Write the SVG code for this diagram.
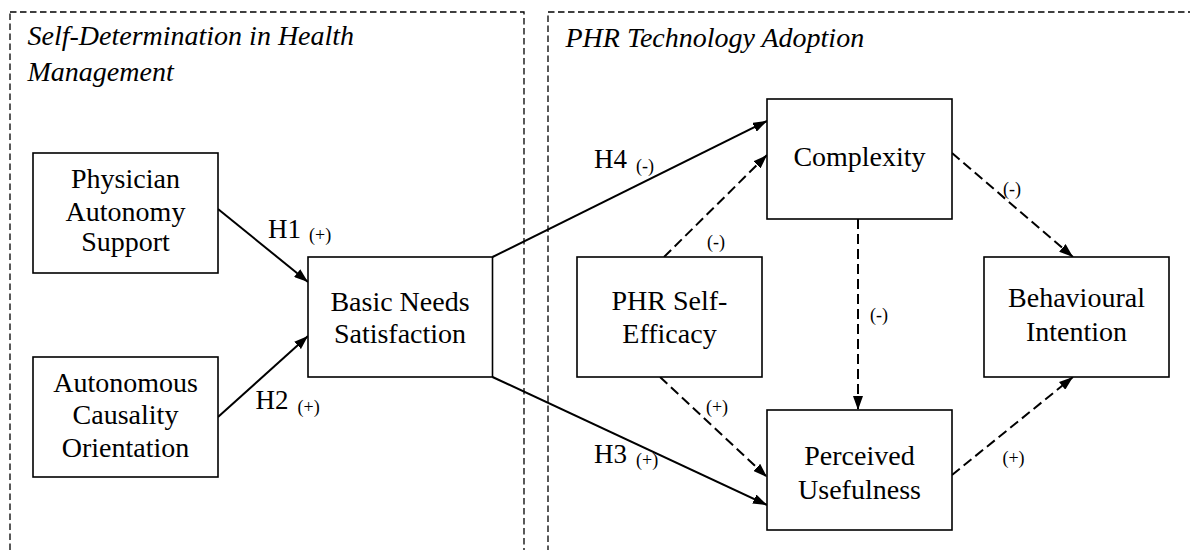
<svg xmlns="http://www.w3.org/2000/svg" width="1190" height="550" viewBox="0 0 1190 550">
<defs>
<style>
.frame{fill:none;stroke:#000;stroke-width:1.3;stroke-dasharray:6.5 3.5}
.box{fill:#fff;stroke:#000;stroke-width:1.6}
.lbl{font-family:"Liberation Serif","Times New Roman",serif;font-size:28px;fill:#000;text-anchor:middle}
.ttl{font-family:"Liberation Serif","Times New Roman",serif;font-size:28px;font-style:italic;fill:#000}
.h{font-family:"Liberation Serif","Times New Roman",serif;font-size:27px;fill:#000}
.s{font-family:"Liberation Serif","Times New Roman",serif;font-size:18px;fill:#000}
.sc{font-family:"Liberation Serif","Times New Roman",serif;font-size:18px;fill:#000;text-anchor:middle}
.solid{fill:none;stroke:#000;stroke-width:2;marker-end:url(#ah)}
.dash{fill:none;stroke:#000;stroke-width:2;stroke-dasharray:10 5;marker-end:url(#ah)}
</style>
<marker id="ah" viewBox="0 0 14 10" refX="14" refY="5" markerWidth="14" markerHeight="10" markerUnits="userSpaceOnUse" orient="auto">
<path d="M0,0 L14,5 L0,10 z" fill="#000"/>
</marker>
</defs>
<rect width="1190" height="550" fill="#fff"/>
<g id="frames">
<rect class="frame" x="10" y="12" width="514" height="560"/>
<text class="ttl" x="27.5" y="45">Self-Determination in Health</text>
<text class="ttl" x="27.5" y="81">Management</text>
<rect class="frame" x="548" y="12" width="700" height="560"/>
<text class="ttl" x="565.5" y="47">PHR Technology Adoption</text>
</g>
<g id="connectors">
<line class="solid" x1="218" y1="209" x2="308" y2="282"/>
<line class="solid" x1="218" y1="417" x2="308" y2="336"/>
<line class="solid" x1="492.5" y1="257" x2="767" y2="121"/>
<line class="solid" x1="492.5" y1="377" x2="767" y2="505"/>
<line class="dash" x1="664" y1="257" x2="767" y2="155"/>
<line class="dash" x1="952" y1="153" x2="1073" y2="257"/>
<line class="dash" x1="858" y1="219" x2="858" y2="410"/>
<line class="dash" x1="660" y1="377" x2="767" y2="477"/>
<line class="dash" x1="952" y1="475" x2="1073" y2="377"/>
<text class="h" x="268" y="238">H1</text><text class="s" x="309" y="241">(+)</text>
<text class="h" x="255.5" y="409">H2</text><text class="s" x="297.5" y="413">(+)</text>
<text class="h" x="594" y="168">H4</text><text class="s" x="636" y="172">(-)</text>
<text class="h" x="594" y="463">H3</text><text class="s" x="636" y="466">(+)</text>
<text class="sc" x="716" y="248">(-)</text>
<text class="sc" x="1012" y="195">(-)</text>
<text class="sc" x="879" y="321">(-)</text>
<text class="sc" x="717" y="413">(+)</text>
<text class="sc" x="1013.5" y="464">(+)</text>
</g>
<g id="physician">
<rect class="box" x="33" y="153" width="185" height="120"/>
<text class="lbl" x="125.5" y="188">Physician</text>
<text class="lbl" x="125.5" y="220.5">Autonomy</text>
<text class="lbl" x="125.5" y="251">Support</text>
</g>
<g id="autonomous">
<rect class="box" x="33" y="357" width="185" height="120"/>
<text class="lbl" x="125.5" y="391.5">Autonomous</text>
<text class="lbl" x="125.5" y="424">Causality</text>
<text class="lbl" x="125.5" y="456.5">Orientation</text>
</g>
<g id="basic">
<rect class="box" x="308" y="257" width="184.5" height="120"/>
<text class="lbl" x="400" y="311">Basic Needs</text>
<text class="lbl" x="400" y="343">Satisfaction</text>
</g>
<g id="complexity">
<rect class="box" x="767" y="99" width="185" height="120"/>
<text class="lbl" x="859.5" y="166">Complexity</text>
</g>
<g id="selfefficacy">
<rect class="box" x="577" y="257" width="185" height="120"/>
<text class="lbl" x="669.5" y="310">PHR Self-</text>
<text class="lbl" x="669.5" y="343">Efficacy</text>
</g>
<g id="behavioural">
<rect class="box" x="984" y="257" width="185" height="120"/>
<text class="lbl" x="1076.5" y="307">Behavioural</text>
<text class="lbl" x="1076.5" y="341">Intention</text>
</g>
<g id="usefulness">
<rect class="box" x="767" y="410" width="185" height="120"/>
<text class="lbl" x="859.5" y="465">Perceived</text>
<text class="lbl" x="859.5" y="499">Usefulness</text>
</g>
</svg>
